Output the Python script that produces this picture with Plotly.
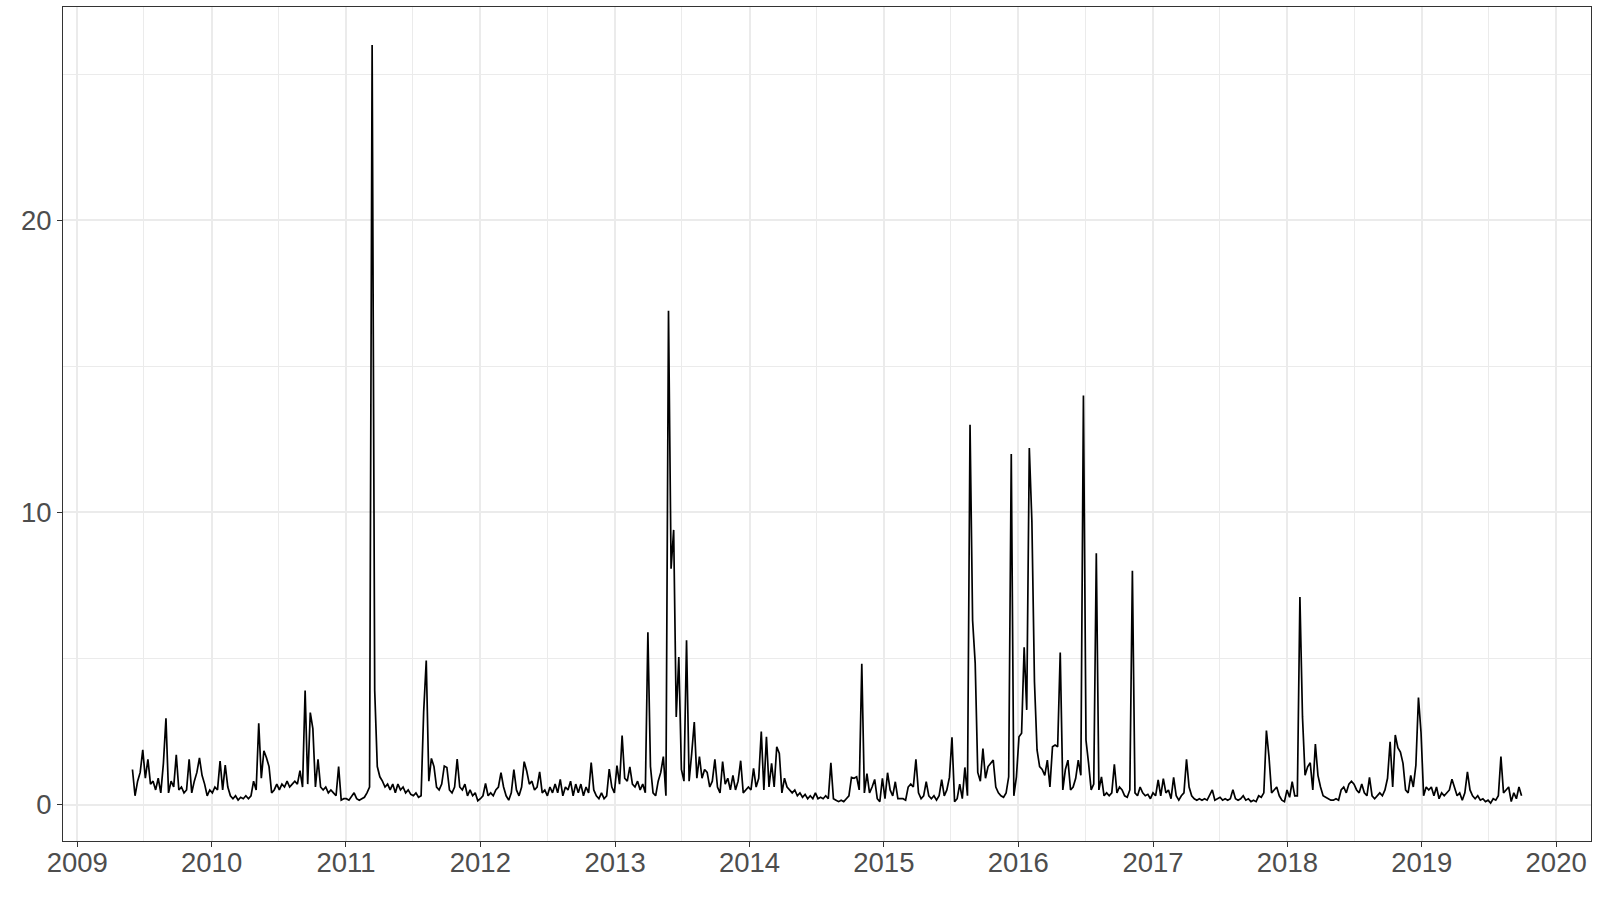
import pandas as pd
import plotly.graph_objects as go

# weekly readings, first point on 2009-05-31
start_date = "2009-05-31"

vals_2009 = [1.2, 0.3, 0.8, 1.1, 1.87, 0.9, 1.55, 0.7, 0.8, 0.5, 0.9, 0.4, 1.4, 2.95, 0.4, 0.8,
             0.6, 1.7, 0.5, 0.6, 0.4, 0.5, 1.55, 0.4, 0.8, 1.1, 1.6, 1.0, 0.7, 0.3, 0.5]
vals_2010 = [0.4, 0.6, 0.5, 1.49, 0.5, 1.35, 0.6, 0.3, 0.2, 0.3,
             0.15, 0.25, 0.2, 0.3, 0.2, 0.3, 0.8, 0.5, 2.78, 0.9,
             1.84, 1.6, 1.3, 0.4, 0.5, 0.7, 0.5, 0.7, 0.6, 0.8,
             0.6, 0.7, 0.8, 0.7, 1.16, 0.6, 3.9, 0.7, 3.15, 2.6,
             0.6, 1.55, 0.6, 0.5, 0.6, 0.4, 0.5, 0.4, 0.3, 1.3,
             0.15, 0.2]
vals_2011 = [0.2, 0.15, 0.3, 0.4, 0.2, 0.15, 0.2, 0.25, 0.4, 0.6,
             26.0, 3.9, 1.3, 0.95, 0.8, 0.6, 0.7, 0.5, 0.7, 0.4,
             0.7, 0.5, 0.6, 0.4, 0.5, 0.35, 0.3, 0.4, 0.25, 0.3,
             3.18, 4.93, 0.8, 1.58, 1.3, 0.6, 0.5, 0.7, 1.32, 1.27,
             0.5, 0.4, 0.6, 1.56, 0.6, 0.5, 0.7, 0.3, 0.5, 0.3,
             0.4, 0.13]
vals_2012 = [0.2, 0.3, 0.72, 0.3, 0.4, 0.3, 0.5, 0.6, 1.09, 0.6,
             0.3, 0.15, 0.4, 1.2, 0.5, 0.3, 0.6, 1.47, 1.14, 0.7,
             0.8, 0.5, 0.6, 1.12, 0.4, 0.5, 0.3, 0.6, 0.4, 0.7,
             0.4, 0.86, 0.3, 0.6, 0.5, 0.8, 0.3, 0.7, 0.4, 0.7,
             0.3, 0.6, 0.4, 1.44, 0.5, 0.3, 0.2, 0.4, 0.2, 0.3,
             1.21, 0.6]
vals_2013 = [0.4, 1.33, 0.7, 2.36, 0.9, 0.8, 1.29, 0.7, 0.6, 0.8,
             0.5, 0.7, 0.4, 5.9, 1.3, 0.4, 0.3, 0.8, 1.1, 1.64,
             0.3, 16.9, 8.07, 9.4, 3.0, 5.05, 1.2, 0.8, 5.62, 0.8,
             1.75, 2.82, 0.9, 1.64, 0.9, 1.2, 1.1, 0.6, 0.8, 1.55,
             0.6, 0.4, 1.47, 0.7, 0.9, 0.5, 1.0, 0.5, 0.8, 1.5,
             0.4, 0.5, 0.6]
vals_2014 = [0.5, 1.24, 0.6, 0.9, 2.5, 0.5, 2.32, 0.6, 1.41, 0.6,
             1.98, 1.75, 0.4, 0.9, 0.6, 0.5, 0.4, 0.5, 0.3, 0.4,
             0.25, 0.35, 0.2, 0.3, 0.2, 0.4, 0.2, 0.25, 0.2, 0.3,
             0.2, 1.43, 0.2, 0.15, 0.1, 0.15, 0.1, 0.2, 0.3, 0.93,
             0.9, 0.95, 0.5, 4.82, 0.4, 1.06, 0.4, 0.6, 0.86, 0.2,
             0.1, 0.9]
vals_2015 = [0.2, 1.09, 0.5, 0.3, 0.78, 0.2, 0.2, 0.2, 0.15, 0.6,
             0.7, 0.6, 1.55, 0.4, 0.2, 0.3, 0.78, 0.3, 0.2, 0.3,
             0.15, 0.3, 0.85, 0.3, 0.5, 0.93, 2.3, 0.1, 0.2, 0.7,
             0.2, 1.27, 0.3, 13.0, 6.3, 4.84, 1.1, 0.8, 1.92, 0.9,
             1.3, 1.41, 1.52, 0.6, 0.4, 0.3, 0.25, 0.4, 0.95, 12.0,
             0.3, 0.95]
vals_2016 = [2.32, 2.44, 5.38, 3.24, 12.2, 9.7, 4.2, 1.87, 1.3, 1.2,
             1.0, 1.52, 0.6, 1.98, 2.04, 1.98, 5.2, 0.5, 1.2, 1.52,
             0.5, 0.6, 0.9, 1.52, 1.0, 14.0, 2.2, 1.41, 0.5, 0.7,
             8.6, 0.5, 0.95, 0.3, 0.4, 0.3, 0.4, 1.38, 0.4, 0.6,
             0.5, 0.3, 0.25, 0.5, 8.0, 0.4, 0.3, 0.6, 0.4, 0.3,
             0.35, 0.2]
vals_2017 = [0.4, 0.3, 0.84, 0.3, 0.89, 0.4, 0.5, 0.2, 0.93, 0.3,
             0.15, 0.3, 0.4, 1.55, 0.6, 0.3, 0.2, 0.15, 0.2, 0.15,
             0.2, 0.15, 0.3, 0.5, 0.15, 0.2, 0.25, 0.15, 0.2, 0.15,
             0.2, 0.51, 0.2, 0.15, 0.2, 0.3, 0.15, 0.2, 0.1, 0.15,
             0.1, 0.3, 0.25, 0.4, 2.53, 1.64, 0.4, 0.5, 0.6, 0.3,
             0.15, 0.1, 0.5]
vals_2018 = [0.25, 0.78, 0.3, 0.3, 7.1, 3.0, 1.0, 1.29, 1.43, 0.5,
             2.07, 1.0, 0.6, 0.3, 0.25, 0.2, 0.15, 0.15, 0.2, 0.15,
             0.5, 0.6, 0.4, 0.7, 0.8, 0.7, 0.5, 0.4, 0.7, 0.4,
             0.3, 0.93, 0.3, 0.2, 0.3, 0.4, 0.3, 0.5, 0.9, 2.15,
             0.6, 2.38, 1.95, 1.8, 1.41, 0.5, 0.4, 1.0, 0.6, 1.35,
             3.66, 2.46]
vals_2019 = [0.3, 0.6, 0.5, 0.6, 0.3, 0.6, 0.2, 0.4, 0.3, 0.4,
             0.5, 0.87, 0.6, 0.3, 0.4, 0.15, 0.4, 1.12, 0.5, 0.3,
             0.2, 0.3, 0.15, 0.2, 0.1, 0.15, 0.05, 0.2, 0.15, 0.3,
             1.64, 0.4, 0.5, 0.6, 0.1, 0.4, 0.2, 0.6, 0.3]

values = (vals_2009 + vals_2010 + vals_2011 + vals_2012 + vals_2013 + vals_2014
          + vals_2015 + vals_2016 + vals_2017 + vals_2018 + vals_2019)
dates = pd.date_range(start_date, periods=len(values), freq="7D")

# ggplot style 5% expansion on both axes
span = dates.max() - dates.min()
x_range = [dates.min() - span * 0.05, dates.max() + span * 0.05]
y_span = max(values) - min(values)
y_range = [min(values) - y_span * 0.05, max(values) + y_span * 0.05]

fig = go.Figure()
fig.add_trace(go.Scatter(
    x=dates,
    y=values,
    mode="lines",
    line=dict(color="black", width=1.7),
    showlegend=False,
))

grid = "#EBEBEB"
axis_common = dict(
    showline=True,
    linecolor="#333333",
    linewidth=1,
    mirror=True,
    ticks="outside",
    ticklen=5,
    tickwidth=1,
    tickcolor="#333333",
    tickfont=dict(family="Liberation Sans, Arial", size=27.5, color="#4D4D4D"),
    showgrid=True,
    gridcolor=grid,
    gridwidth=1.6,
    zeroline=False,
)

fig.update_xaxes(
    type="date",
    range=x_range,
    tick0="2009-01-01",
    dtick="M12",
    tickformat="%Y",
    ticklabelstandoff=-8,
    minor=dict(dtick="M6", tick0="2009-01-01", showgrid=True, gridcolor=grid, gridwidth=0.8, ticks=""),
    **axis_common,
)
fig.update_yaxes(
    range=y_range,
    tick0=0,
    dtick=10,
    minor=dict(dtick=5, showgrid=True, gridcolor=grid, gridwidth=0.8, ticks=""),
    **axis_common,
)

fig.update_layout(
    width=1600,
    height=900,
    plot_bgcolor="white",
    paper_bgcolor="white",
    margin=dict(l=63, r=9, t=7, b=59),
)

# drop the default page margin so the figure sits at the window corner
fig.write_html("out.html", config={"displayModeBar": False},
               post_script="document.body.style.margin='0';")
